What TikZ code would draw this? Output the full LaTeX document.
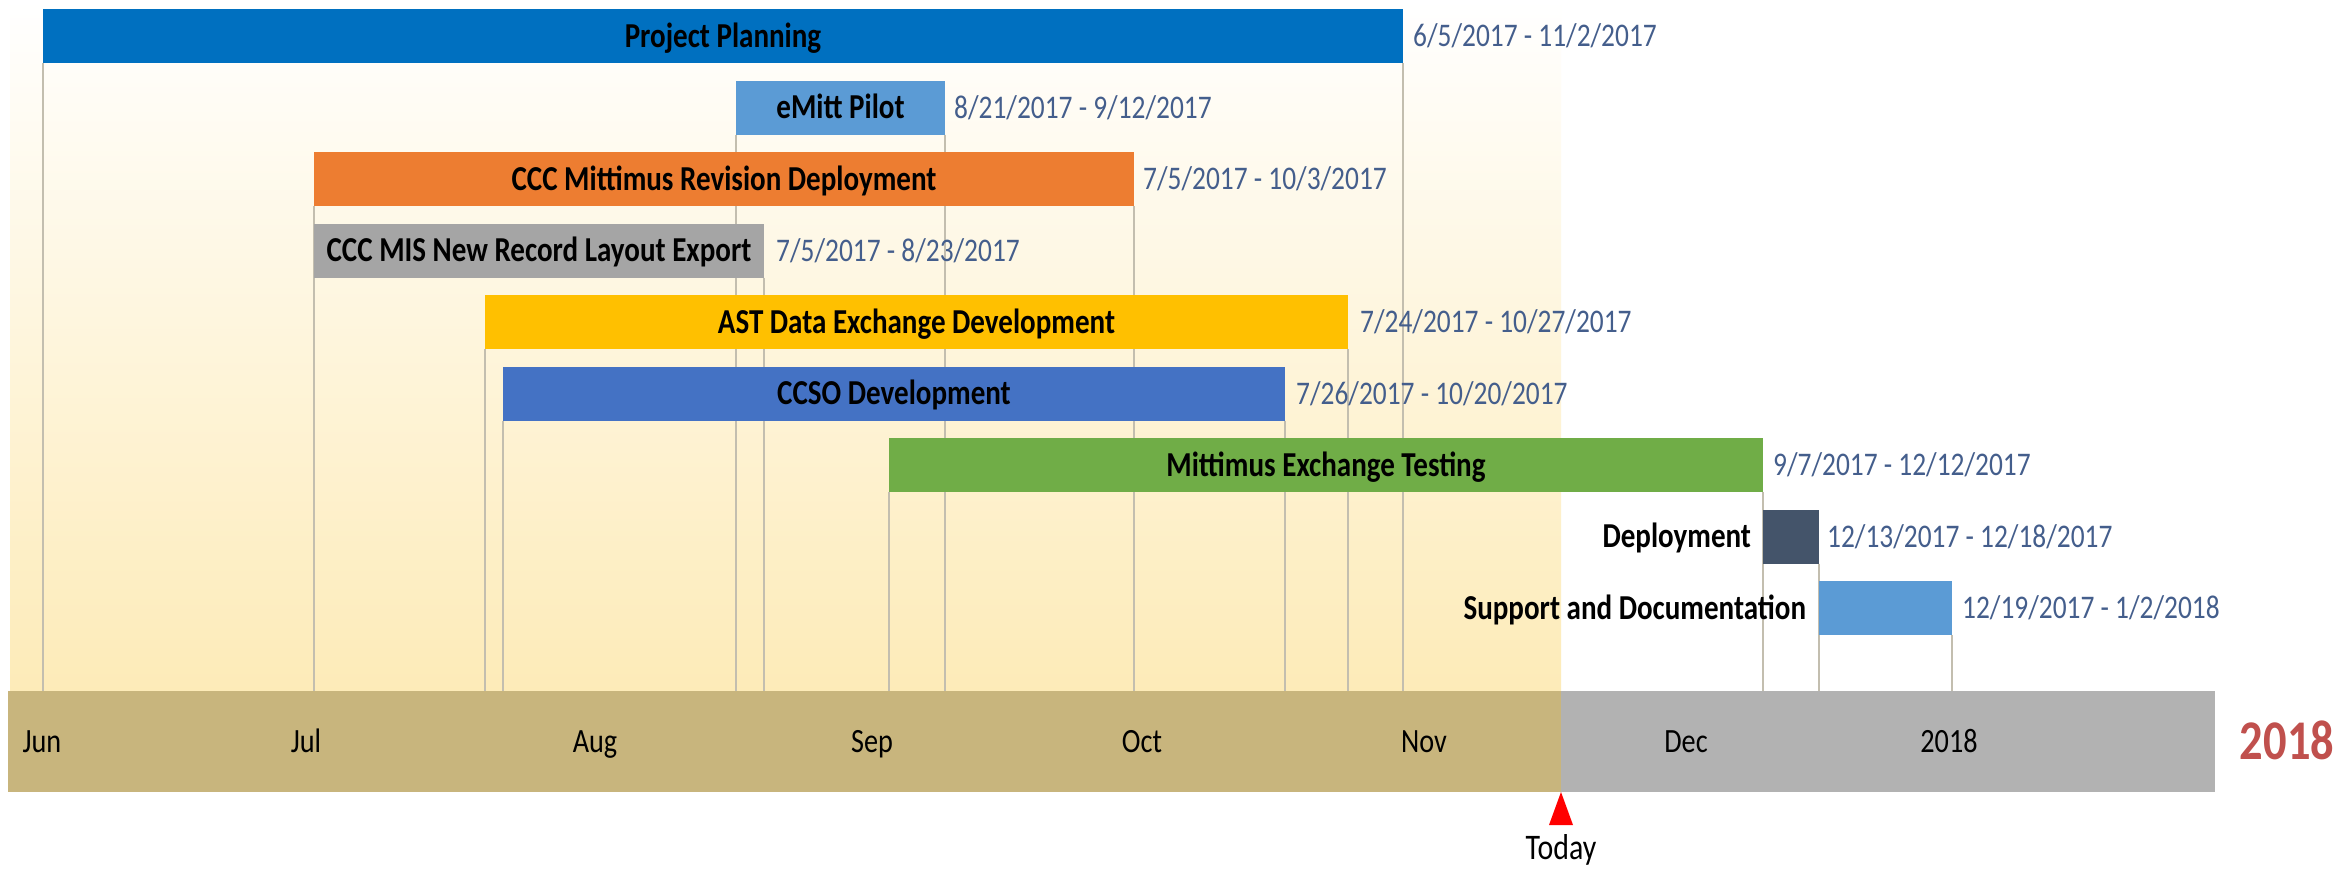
\documentclass[tikz,border=0pt]{standalone}
\usepackage{fontspec}
\setmainfont{Carlito}[FakeStretch=0.83]
\usetikzlibrary{positioning,backgrounds}
\pgfdeclarelayer{gridlayer}
\pgfsetlayers{background,gridlayer,main}
\definecolor{planblue}{RGB}{0,112,192}
\definecolor{lightblue}{RGB}{91,155,213}
\definecolor{orangebar}{RGB}{237,125,49}
\definecolor{graybar}{RGB}{165,165,165}
\definecolor{goldbar}{RGB}{255,192,0}
\definecolor{midblue}{RGB}{68,114,196}
\definecolor{greenbar}{RGB}{112,173,71}
\definecolor{slatebar}{RGB}{68,84,106}
\definecolor{datecol}{RGB}{68,94,140}
\definecolor{tanband}{RGB}{200,181,125}
\definecolor{grayband}{RGB}{178,178,178}
\definecolor{paleyellow}{RGB}{253,235,184}
\definecolor{gridcol}{RGB}{195,190,175}
\definecolor{yearred}{RGB}{192,80,77}

\begin{document}
\begin{tikzpicture}[x=1pt,y=-1pt,
  taskbar/.style={inner sep=0pt,outer sep=0pt,minimum height=54pt,text height=22.5pt,text depth=0pt,font=\fontsize{35}{40}\selectfont\bfseries},
  when/.style={inner sep=0pt,text height=21pt,text depth=0pt,text=datecol,font=\fontsize{33}{40}\selectfont},
  band/.style={inner sep=0pt,outer sep=0pt,minimum height=101pt},
  month/.style={inner sep=0pt,text height=22pt,text depth=0pt,font=\fontsize{34}{40}\selectfont},
  gridline/.style={draw=gridcol,line width=1.5pt}]
\useasboundingbox (0,0) rectangle (2338,870);
\begin{scope}[on background layer]
  \fill[white] (0,0) rectangle (2338,870);
  \shade[top color=white,bottom color=paleyellow] (10,0) rectangle (1561,691);
\end{scope}

  \node[band,fill=tanband,minimum width=1553pt] (past) at (784.5,741.5) {};
  \node[band,fill=grayband,minimum width=654pt] (future) at (1888,741.5) {};

  \node[taskbar,fill=planblue,minimum width=1360pt] (plan) at (723,36) {Project Planning};
  \node[taskbar,fill=lightblue,minimum width=209pt] (pilot) at (840.5,107.5) {eMitt Pilot};
  \node[taskbar,fill=orangebar,minimum width=820pt] (revision) at (724,179) {CCC Mittimus Revision Deployment};
  \node[taskbar,fill=graybar,minimum width=450pt] (export) at (539,250.5) {CCC MIS New Record Layout Export};
  \node[taskbar,fill=goldbar,minimum width=863pt] (ast) at (916.5,322) {AST Data Exchange Development};
  \node[taskbar,fill=midblue,minimum width=782pt] (ccso) at (894,393.5) {CCSO Development};
  \node[taskbar,fill=greenbar,minimum width=874pt] (testing) at (1326,465) {Mittimus Exchange Testing};
  \node[taskbar,fill=slatebar,minimum width=56pt] (deploy) at (1791,536.5) {};
  \node[taskbar,fill=lightblue,minimum width=133pt] (support) at (1885.5,608) {};
  \node[taskbar,left=12pt of deploy] (deploylbl) {Deployment};
  \node[taskbar,left=13pt of support] (supportlbl) {Support and Documentation};

  \node[when,right=10pt of plan] (plandate) {6/5/2017 - 11/2/2017};
  \node[when,right=9pt of pilot] (pilotdate) {8/21/2017 - 9/12/2017};
  \node[when,right=9pt of revision] (revisiondate) {7/5/2017 - 10/3/2017};
  \node[when,right=12pt of export] (exportdate) {7/5/2017 - 8/23/2017};
  \node[when,right=12pt of ast] (astdate) {7/24/2017 - 10/27/2017};
  \node[when,right=11pt of ccso] (ccsodate) {7/26/2017 - 10/20/2017};
  \node[when,right=10pt of testing] (testingdate) {9/7/2017 - 12/12/2017};
  \node[when,right=8pt of deploy] (deploydate) {12/13/2017 - 12/18/2017};
  \node[when,right=10pt of support] (supportdate) {12/19/2017 - 1/2/2018};

\begin{pgfonlayer}{gridlayer}
  \draw[gridline] (plan.south west) -- (plan.south west |- past.north)
    (plan.south east) -- (plan.south east |- past.north)
    (pilot.south west) -- (pilot.south west |- past.north)
    (pilot.south east) -- (pilot.south east |- past.north)
    (revision.south west) -- (revision.south west |- past.north)
    (revision.south east) -- (revision.south east |- past.north)
    (export.south east) -- (export.south east |- past.north)
    (ast.south west) -- (ast.south west |- past.north)
    (ast.south east) -- (ast.south east |- past.north)
    (ccso.south west) -- (ccso.south west |- past.north)
    (ccso.south east) -- (ccso.south east |- past.north)
    (testing.south west) -- (testing.south west |- past.north)
    (testing.south east) -- (testing.south east |- past.north)
    (deploy.south east) -- (deploy.south east |- past.north)
    (support.south east) -- (support.south east |- past.north);
\end{pgfonlayer}

  \node[month] (jun) at (42,741.5) {Jun};
  \node[month] (jul) at (306,741.5) {Jul};
  \node[month] (aug) at (595,741.5) {Aug};
  \node[month] (sep) at (872,741.5) {Sep};
  \node[month] (oct) at (1142,741.5) {Oct};
  \node[month] (nov) at (1424,741.5) {Nov};
  \node[month] (dec) at (1686,741.5) {Dec};
  \node[month] (jan) at (1949,741.5) {2018};
  \node[inner sep=0pt,text height=35pt,text depth=0pt,text=yearred,font=\fontsize{56}{60}\selectfont\bfseries] (year) at (2287,742) {2018};

  \fill[red] (past.south east) -- ++(-12,33) -- ++(24,0) -- cycle;
  \node[month,text height=23pt,font=\fontsize{36}{40}\selectfont] (today) at (1561,848) {Today};

\end{tikzpicture}
\end{document}
